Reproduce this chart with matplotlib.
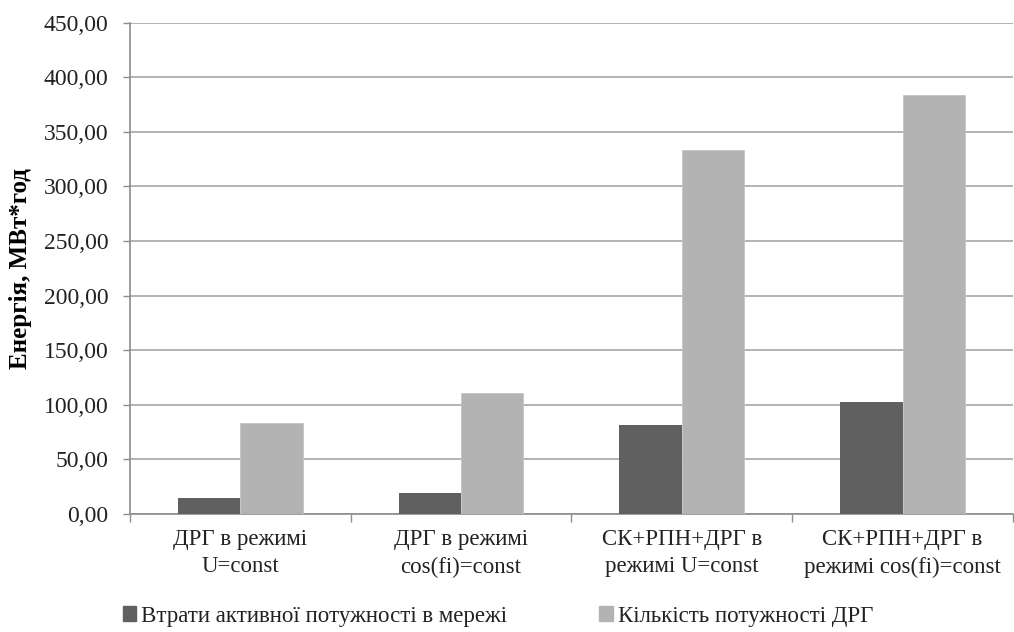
# energy_bars.py
# Втрати та кількість потужності ДРГ для різних режимів роботи

import matplotlib
matplotlib.use("Agg")
import matplotlib.pyplot as plt
from matplotlib.ticker import FuncFormatter, FixedLocator
from matplotlib.patches import Patch
import numpy as np

# Data
categories = ["ДРГ в режимі\nU=const",
              "ДРГ в режимі\ncos(fi)=const",
              "СК+РПН+ДРГ в\nрежимі U=const",
              "СК+РПН+ДРГ в\nрежимі cos(fi)=const"]
losses = [14.1, 19.3, 81.1, 102.5]
drg_power = [82.9, 111.0, 333.0, 383.9]
series_names = ["Втрати активної потужності в мережі",
                "Кількість потужності ДРГ"]
y_ticks = [0, 50, 100, 150, 200, 250, 300, 350, 400, 450]

plt.rcParams['font.family'] = ['Liberation Serif', 'DejaVu Serif']

dark = '#606060'
light = '#b3b3b3'
axis_col = '#8c8c8c'

fig = plt.figure(figsize=(10.14, 6.32), dpi=100)
ax = fig.add_axes([0.128, 0.187, 0.871, 0.777])

x = np.arange(len(categories))
w = 0.283
ax.bar(x - w / 2, losses, w, color=dark, zorder=3)
ax.bar(x + w / 2, drg_power, w, color=light, edgecolor='#c4c4c4', linewidth=0.6, zorder=3)

# Axes setup
ax.set_xlim(-0.5, len(categories) - 0.5)
ax.set_ylim(0, 450)
ax.set_yticks(y_ticks)
ax.yaxis.set_major_formatter(FuncFormatter(lambda v, p: f"{v:.2f}".replace('.', ',')))
ax.yaxis.grid(True, color='#a6a6a6', linewidth=1.2, zorder=0)
ax.tick_params(axis='y', length=5, width=1, color=axis_col, labelsize=17, labelcolor='#222222', pad=10.5)

ax.set_xticks(x)
ax.set_xticklabels(categories, fontsize=16.5, color='#222222', linespacing=1.4)
ax.tick_params(axis='x', which='major', length=0, pad=11)
ax.xaxis.set_minor_locator(FixedLocator(np.arange(-0.5, len(categories), 1.0)))
ax.tick_params(axis='x', which='minor', length=6, width=1, color=axis_col)

for side in ['top', 'right']:
    ax.spines[side].set_visible(False)
ax.spines['left'].set_color(axis_col)
ax.spines['bottom'].set_color(axis_col)
ax.spines['left'].set_linewidth(1.2)
ax.spines['bottom'].set_linewidth(1.2)

ax.set_ylabel("Енергія, МВт*год", fontsize=18, fontweight='bold')
ax.yaxis.set_label_coords(-0.111, 0.5)

# Legend along the bottom
handles = [Patch(color=dark), Patch(color=light)]
leg = fig.legend(handles, series_names, loc='center left', bbox_to_anchor=(0.121, 0.025), ncol=2,
                 frameon=False, prop={'family': ['Liberation Serif'], 'size': 16.5},
                 handlelength=0.6, handleheight=0.6, borderpad=0,
                 borderaxespad=0, handletextpad=0.22, columnspacing=4.0)
for t in leg.get_texts():
    t.set_color('#222222')

plt.savefig('out.png', dpi=100)
